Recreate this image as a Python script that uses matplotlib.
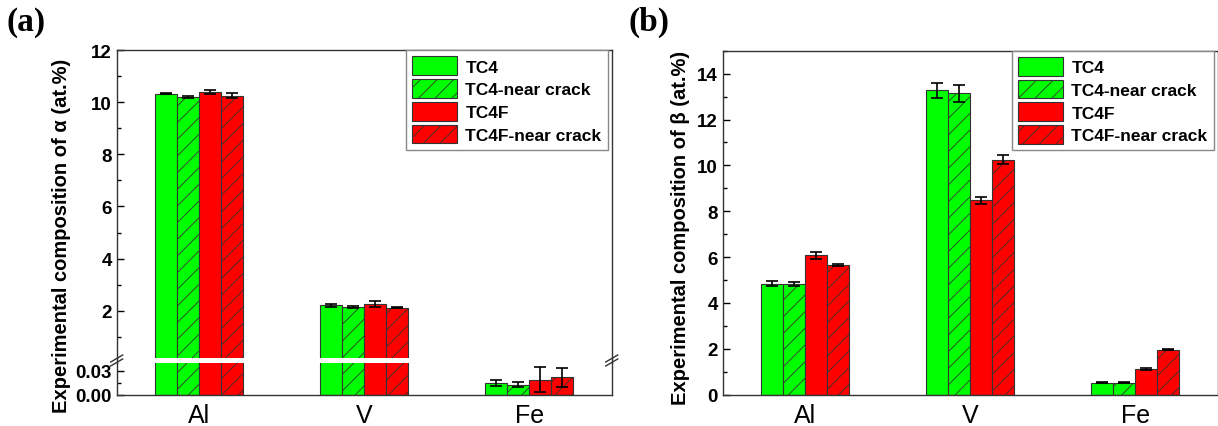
import matplotlib
matplotlib.use("Agg")
import matplotlib.pyplot as plt
import numpy as np
from matplotlib.lines import Line2D
from matplotlib.ticker import MultipleLocator

plt.rcParams['font.family'] = ['Liberation Sans', 'DejaVu Sans']
plt.rcParams['hatch.linewidth'] = 0.6

elements = ["Al", "V", "Fe"]
series = ["TC4", "TC4-near crack", "TC4F", "TC4F-near crack"]
colors = ["#00ff00", "#00ff00", "#ff0000", "#ff0000"]
hatches = ["", "//", "", "//"]

# panel (a): alpha phase
alpha_vals = {
    "TC4":             [10.33, 2.20, 0.0146],
    "TC4-near crack":  [10.20, 2.15, 0.0125],
    "TC4F":            [10.38, 2.26, 0.0190],
    "TC4F-near crack": [10.25, 2.12, 0.0220],
}
alpha_errs = {
    "TC4":             [0.03, 0.04, 0.0035],
    "TC4-near crack":  [0.03, 0.03, 0.0030],
    "TC4F":            [0.08, 0.10, 0.0160],
    "TC4F-near crack": [0.10, 0.02, 0.0120],
}
# panel (b): beta phase
beta_vals = {
    "TC4":             [4.84, 13.27, 0.53],
    "TC4-near crack":  [4.81, 13.14, 0.53],
    "TC4F":            [6.07, 8.47, 1.11],
    "TC4F-near crack": [5.65, 10.24, 1.97],
}
beta_errs = {
    "TC4":             [0.10, 0.32, 0.02],
    "TC4-near crack":  [0.09, 0.36, 0.02],
    "TC4F":            [0.16, 0.16, 0.04],
    "TC4F-near crack": [0.04, 0.20, 0.04],
}

W = 1218
H = 427
fig = plt.figure(figsize=(W / 100, H / 100), dpi=100)

def fx(px):
    return px / W

def fy(py):
    return 1 - py / H

bw = 0.133
x = np.arange(1, len(elements) + 1)
offsets = (np.arange(4) - 1.5) * bw

def draw_bars(ax, vals, errs):
    handles = []
    for i, s in enumerate(series):
        b = ax.bar(x + offsets[i], vals[s], bw, color=colors[i], hatch=hatches[i],
                   edgecolor="#333333", linewidth=0.8, label=s, zorder=2)
        ax.errorbar(x + offsets[i], vals[s], yerr=errs[s], fmt="none", ecolor="black",
                    elinewidth=1.2, capsize=4, capthick=1.2, zorder=3)
        handles.append(b)
    return handles

def style(ax):
    ax.set_xlim(0.5, 3.5)
    ax.tick_params(axis="y", direction="in", length=5, width=1, labelsize=13.5)
    ax.tick_params(axis="y", which="minor", direction="in", length=3, width=1)
    ax.tick_params(axis="x", length=0, labelsize=18, pad=6)
    for lab in ax.get_yticklabels():
        lab.set_fontweight("bold")
    for sp in ax.spines.values():
        sp.set_linewidth(1.0)
        sp.set_color("#333333")

legend_kw = dict(prop={"weight": "bold", "size": 12.5}, frameon=True,
                 fancybox=False, edgecolor="#888888", framealpha=1,
                 handlelength=2.6, handleheight=1.3, borderaxespad=0.0,
                 labelspacing=0.22, handletextpad=0.5, borderpad=0.35)

# ---------------- panel (a) -----------------
L_a, R_a = 116.7, 611.7
top_a, brk_hi, brk_lo, bot_a = 51.2, 359.0, 364.0, 395.7
ax_up = fig.add_axes([fx(L_a), fy(brk_hi), fx(R_a - L_a), (brk_hi - top_a) / H])
ax_lo = fig.add_axes([fx(L_a), fy(bot_a), fx(R_a - L_a), (bot_a - brk_lo) / H])

h_a = draw_bars(ax_up, alpha_vals, alpha_errs)
draw_bars(ax_lo, alpha_vals, alpha_errs)

ax_up.set_ylim(0.184, 12)
ax_up.set_yticks([2, 4, 6, 8, 10, 12])
ax_up.yaxis.set_minor_locator(MultipleLocator(1))
ax_up.spines["bottom"].set_visible(False)
ax_up.set_xticks([])
ax_lo.set_ylim(0, 0.04)
ax_lo.set_yticks([0.0, 0.03])
ax_lo.set_yticklabels(["0.00", "0.03"])
ax_lo.yaxis.set_minor_locator(MultipleLocator(0.015))
ax_lo.spines["top"].set_visible(False)
ax_lo.set_xticks(x)
ax_lo.set_xticklabels(elements)
style(ax_up)
style(ax_lo)
ax_up.tick_params(axis="x", length=0)

# connect spines across the gap and draw break marks
for px in (L_a, R_a):
    fig.add_artist(Line2D([fx(px), fx(px)], [fy(brk_lo), fy(brk_hi)], color="#333333", lw=1.0))
    for dy in (-2.0, 2.0):
        yc = (brk_hi + brk_lo) / 2 + dy
        fig.add_artist(Line2D([fx(px - 6), fx(px + 6)], [fy(yc + 3.5), fy(yc - 3.5)],
                              color="#333333", lw=1.0))

fig.text(fx(62), fy(236), "Experimental composition of α (at.%)",
         rotation=90, ha="center", va="center", fontsize=14.5, fontweight="bold")
fig.text(fx(7), fy(22), "(a)", fontsize=24, fontweight="bold",
         family=["Liberation Serif"], ha="left", va="center")

leg_a = ax_up.legend(handles=h_a, loc="upper right",
                     bbox_to_anchor=(1.0 - 4 / (R_a - L_a), 1.0), **legend_kw)
leg_a.get_frame().set_linewidth(1.0)

# ---------------- panel (b) -----------------
L_b, R_b = 722.7, 1217.7
top_b, bot_b = 51.7, 395.7
ax_b = fig.add_axes([fx(L_b), fy(bot_b), fx(R_b - L_b), (bot_b - top_b) / H])
h_b = draw_bars(ax_b, beta_vals, beta_errs)
ax_b.set_ylim(0, 15)
ax_b.yaxis.set_major_locator(MultipleLocator(2))
ax_b.yaxis.set_minor_locator(MultipleLocator(1))
ax_b.set_xticks(x)
ax_b.set_xticklabels(elements)
style(ax_b)

fig.text(fx(680), fy(228), "Experimental composition of β (at.%)",
         rotation=90, ha="center", va="center", fontsize=14.5, fontweight="bold")
fig.text(fx(628), fy(22), "(b)", fontsize=24, fontweight="bold",
         family=["Liberation Serif"], ha="left", va="center")

leg_b = ax_b.legend(handles=h_b, loc="upper right",
                    bbox_to_anchor=(1.0 - 4 / (R_b - L_b), 1.0), **legend_kw)
leg_b.get_frame().set_linewidth(1.0)

fig.savefig("out.png", dpi=100)
